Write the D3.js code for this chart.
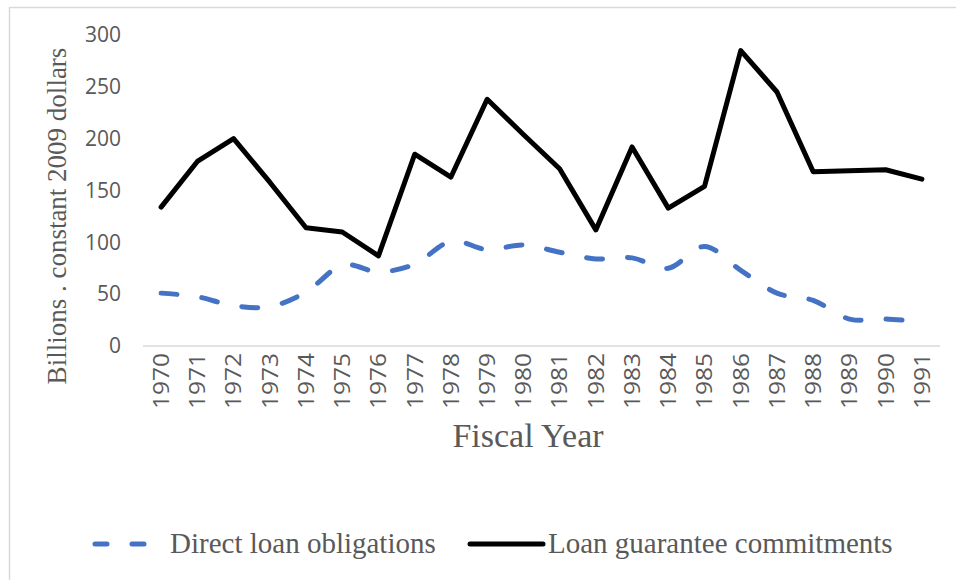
<!DOCTYPE html>
<html>
<head>
<meta charset="utf-8">
<script src="https://cdn.jsdelivr.net/npm/d3@7"></script>
<style>
  html, body { margin: 0; padding: 0; background: #fff; }
  svg { display: block; }
</style>
</head>
<body>
<svg id="chart" width="956" height="580"></svg>
<script>
// Fiscal years 1970–1991
const years = ["1970","1971","1972","1973","1974","1975","1976","1977","1978","1979","1980",
               "1981","1982","1983","1984","1985","1986","1987","1988","1989","1990","1991"];

// Billions of constant 2009 dollars
const directLoans = [51, 47.5, 39, 38, 52, 78, 71.5, 79, 101, 93, 97.5,
                     90.5, 84, 85, 75, 96, 73, 51, 44, 26, 26, 23.5];
const loanGuarantees = [134, 178, 200, 158, 114, 110, 87, 185, 163, 238, 204,
                        171, 112, 192, 133, 154, 285, 245, 168, 169, 170, 161];

const yTicks = [0, 50, 100, 150, 200, 250, 300];

const seriesNames = ["Direct loan obligations", "Loan guarantee commitments"];

const svg = d3.select("#chart");

// chart area frame
svg.append("rect")
  .attr("x", 9.5).attr("y", 7.5)
  .attr("width", 1000).attr("height", 600)
  .attr("fill", "none")
  .attr("stroke", "#d9d9d9")
  .attr("stroke-width", 1.5);

const x = d3.scalePoint().domain(years).range([143, 940]).padding(0.5);
const y = d3.scaleLinear().domain([0, 300]).range([346, 35]);

const tickColor = "#595959";
const sansFont = "'Open Sans', sans-serif";
const serifFont = "'Liberation Serif', 'Times New Roman', serif";

// y axis labels
const yAxis = svg.append("g")
  .attr("transform", "translate(133,0)")
  .call(d3.axisLeft(y).tickValues(yTicks).tickSize(0).tickPadding(12));
yAxis.select(".domain").remove();
yAxis.selectAll("text")
  .attr("fill", tickColor)
  .style("font-family", sansFont)
  .style("font-size", "21px");

// x axis with vertical year labels
const xAxis = svg.append("g")
  .attr("transform", `translate(0,${y(0)})`)
  .call(d3.axisBottom(x).tickSize(0));
xAxis.select(".domain")
  .attr("d", "M143,0H940")
  .attr("stroke", "#d9d9d9")
  .attr("stroke-width", 1.5);
xAxis.selectAll("text")
  .attr("fill", tickColor)
  .style("font-family", sansFont)
  .style("font-size", "21px")
  .attr("textLength", 56)
  .attr("lengthAdjust", "spacingAndGlyphs")
  .attr("transform", "rotate(-90)")
  .attr("text-anchor", "end")
  .attr("x", -7)
  .attr("y", 0)
  .attr("dy", "0.35em");

// axis titles
svg.append("text")
  .attr("transform", `translate(66,216) rotate(-90)`)
  .attr("text-anchor", "middle")
  .attr("fill", tickColor)
  .style("font-family", serifFont)
  .style("font-size", "27px")
  .text("Billions . constant  2009 dollars");

svg.append("text")
  .attr("x", 528).attr("y", 447)
  .attr("text-anchor", "middle")
  .attr("fill", tickColor)
  .style("font-family", serifFont)
  .style("font-size", "34px")
  .text("Fiscal Year");

// series lines
const smoothLine = d3.line()
  .x((d, i) => x(years[i]))
  .y(d => y(d))
  .curve(d3.curveCardinal.tension(0));

const straightLine = d3.line()
  .x((d, i) => x(years[i]))
  .y(d => y(d));

svg.append("path")
  .datum(directLoans)
  .attr("d", smoothLine)
  .attr("fill", "none")
  .attr("stroke", "#4472c4")
  .attr("stroke-width", 5)
  .attr("stroke-linecap", "round")
  .attr("stroke-dasharray", "16,25");

svg.append("path")
  .datum(loanGuarantees)
  .attr("d", straightLine)
  .attr("fill", "none")
  .attr("stroke", "#000")
  .attr("stroke-width", 5)
  .attr("stroke-linejoin", "round")
  .attr("stroke-linecap", "round");

// legend
const legendY = 544;
const legend = svg.append("g");

legend.append("path")
  .attr("d", `M95,${legendY}H148`)
  .attr("stroke", "#4472c4")
  .attr("stroke-width", 5)
  .attr("stroke-linecap", "round")
  .attr("stroke-dasharray", "12,25");
legend.append("text")
  .attr("x", 170).attr("y", legendY + 9)
  .attr("fill", tickColor)
  .style("font-family", serifFont)
  .style("font-size", "29px")
  .text(seriesNames[0]);

legend.append("path")
  .attr("d", `M470,${legendY}H543`)
  .attr("stroke", "#000")
  .attr("stroke-width", 5)
  .attr("stroke-linecap", "round");
legend.append("text")
  .attr("x", 548).attr("y", legendY + 9)
  .attr("fill", tickColor)
  .style("font-family", serifFont)
  .style("font-size", "29px")
  .text(seriesNames[1]);
</script>
</body>
</html>
